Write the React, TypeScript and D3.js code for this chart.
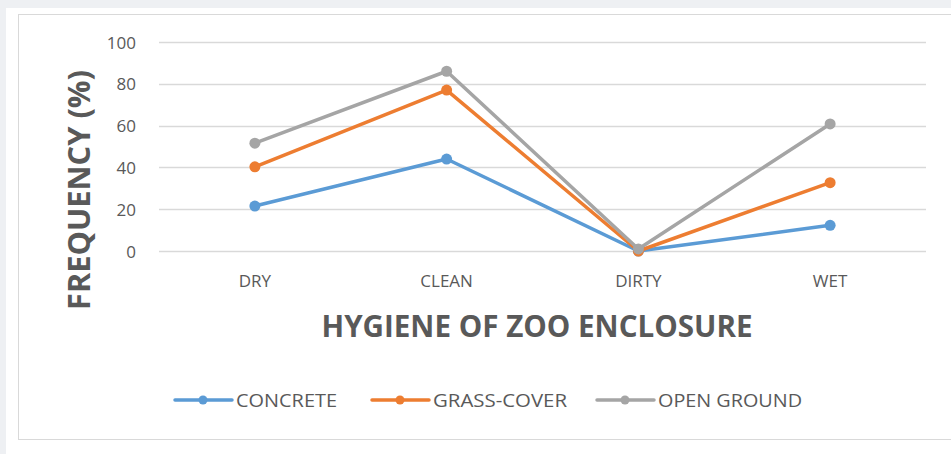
import * as d3 from "d3";

const categories = ["DRY", "CLEAN", "DIRTY", "WET"];
const concrete = [21.5, 44, 0, 12.3];
const grassCover = [40.3, 77, 0, 32.7];
const openGround = [51.6, 86, 1, 60.8];
const seriesNames = ["CONCRETE", "GRASS-COVER", "OPEN GROUND"];
const seriesColors = ["#5b9bd5", "#ed7d31", "#a5a5a5"];
const yTicks = [0, 20, 40, 60, 80, 100];

const WIDTH = 951;
const HEIGHT = 454;
const PLOT = { left: 159, right: 926, top: 42, bottom: 251 };
const FONT = "'Open Sans', 'Liberation Sans', sans-serif";

export default function App() {
  const series = [concrete, grassCover, openGround];

  const xScale = d3
    .scaleBand()
    .domain(categories)
    .range([PLOT.left, PLOT.right]);

  const yScale = d3
    .scaleLinear()
    .domain([0, 100])
    .range([PLOT.bottom, PLOT.top]);

  const xPos = (c: string) => (xScale(c) ?? 0) + xScale.bandwidth() / 2;

  const line = d3
    .line<number>()
    .x((_, i) => xPos(categories[i]))
    .y((d) => yScale(d));

  // legend: line start x and text width for each item
  const legendX = [175, 372, 597];
  const legendTextW = [101, 134, 144];
  const legendY = 400;

  return (
    <div style={{ position: "absolute", left: 0, top: 0 }}>
      <svg width={WIDTH} height={HEIGHT} style={{ display: "block" }}>
        <rect x={0} y={0} width={WIDTH} height={HEIGHT} fill="#eef0f3" />
        <rect x={6} y={8} width={WIDTH - 6} height={HEIGHT - 8} fill="#ffffff" />
        <rect
          x={18.5}
          y={14.5}
          width={WIDTH}
          height={425}
          fill="none"
          stroke="#d9d9d9"
          strokeWidth={1}
        />

        {/* gridlines */}
        {yTicks.map((t) => (
          <line
            key={t}
            x1={PLOT.left}
            x2={PLOT.right}
            y1={Math.round(yScale(t)) + 0.5}
            y2={Math.round(yScale(t)) + 0.5}
            stroke="#d9d9d9"
            strokeWidth={1.3}
          />
        ))}

        {/* y tick labels */}
        {yTicks.map((t) => (
          <text
            key={t}
            x={136}
            y={yScale(t)}
            textAnchor="end"
            dominantBaseline="central"
            fontSize={17}
            fontFamily={FONT}
            fill="#595959"
          >
            {t}
          </text>
        ))}

        {/* x tick labels */}
        {categories.map((c) => (
          <text
            key={c}
            x={xPos(c)}
            y={280}
            textAnchor="middle"
            dominantBaseline="central"
            fontSize={17}
            fontFamily={FONT}
            fill="#595959"
          >
            {c}
          </text>
        ))}

        {/* lines */}
        {series.map((s, i) => (
          <g key={seriesNames[i]}>
            <path
              d={line(s) ?? ""}
              fill="none"
              stroke={seriesColors[i]}
              strokeWidth={3.5}
              strokeLinejoin="round"
              strokeLinecap="round"
            />
            {s.map((v, j) => (
              <circle
                key={j}
                cx={xPos(categories[j])}
                cy={yScale(v)}
                r={5.5}
                fill={seriesColors[i]}
              />
            ))}
          </g>
        ))}

        {/* axis titles */}
        <text
          transform={`translate(78, 190) rotate(-90)`}
          textAnchor="middle"
          dominantBaseline="central"
          fontSize={30}
          fontWeight="bold"
          fontFamily={FONT}
          fill="#595959"
          textLength={240}
          lengthAdjust="spacingAndGlyphs"
        >
          FREQUENCY (%)
        </text>
        <text
          x={537}
          y={325}
          textAnchor="middle"
          dominantBaseline="central"
          fontSize={30}
          fontWeight="bold"
          fontFamily={FONT}
          fill="#595959"
          textLength={431}
          lengthAdjust="spacingAndGlyphs"
        >
          HYGIENE OF ZOO ENCLOSURE
        </text>

        {/* legend */}
        {seriesNames.map((name, i) => (
          <g key={name}>
            <line
              x1={legendX[i]}
              x2={legendX[i] + 57}
              y1={legendY}
              y2={legendY}
              stroke={seriesColors[i]}
              strokeWidth={3.5}
              strokeLinecap="round"
            />
            <circle cx={legendX[i] + 28} cy={legendY} r={4.5} fill={seriesColors[i]} />
            <text
              x={legendX[i] + 61}
              y={legendY}
              dominantBaseline="central"
              fontSize={18}
              fontFamily={FONT}
              fill="#595959"
              textLength={legendTextW[i]}
              lengthAdjust="spacingAndGlyphs"
            >
              {name}
            </text>
          </g>
        ))}
      </svg>
    </div>
  );
}
